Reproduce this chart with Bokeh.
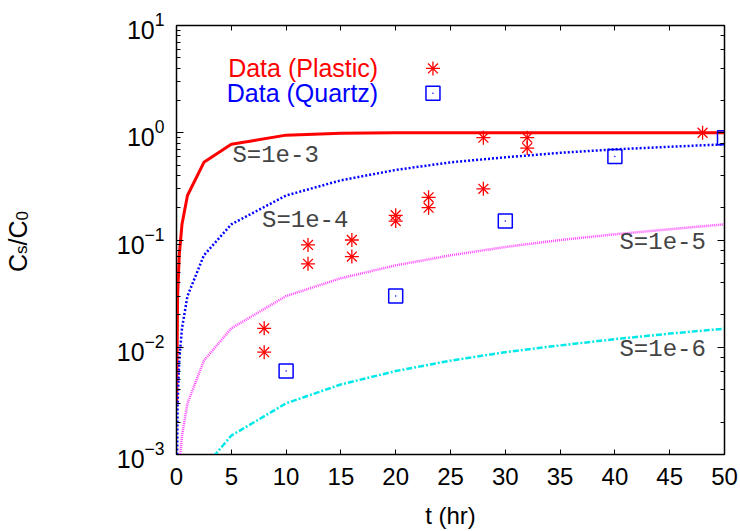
import math

from bokeh.embed import file_html
from bokeh.layouts import row
from bokeh.models import Label, LinearAxis, LogAxis, Range1d
from bokeh.plotting import figure
from bokeh.resources import INLINE

# ---- model curves: C_s/C_0 versus time for four values of S ----
t_model = [0.01, 0.1, 0.25, 0.5, 1, 2.5, 5, 10, 15, 20, 25, 30, 35, 40, 45, 50]
s_1e3 = [0.003, 0.03, 0.072, 0.14, 0.26, 0.53, 0.78, 0.95, 0.99, 1.0, 1.0, 1.0, 1.0, 1.0, 1.0, 1.0]
s_1e4 = [0.0003, 0.003, 0.0075, 0.015, 0.03, 0.072, 0.14, 0.26, 0.36, 0.45, 0.53, 0.59, 0.65, 0.70, 0.74, 0.78]
s_1e5 = [0.00003, 0.0003, 0.00075, 0.0015, 0.003, 0.0075, 0.015, 0.03, 0.044, 0.058, 0.072, 0.086, 0.10, 0.113, 0.126, 0.14]
s_1e6 = [0.000003, 0.00003, 0.000075, 0.00015, 0.0003, 0.00075, 0.0015, 0.003, 0.0045, 0.006, 0.0075, 0.009, 0.0104, 0.0119, 0.0134, 0.0149]

# ---- measurements ----
plastic_t = [8, 8, 12, 12, 16, 16, 20, 20, 23, 23, 28, 28, 32, 32, 48]
plastic_c = [0.015, 0.009, 0.09, 0.06, 0.10, 0.07, 0.17, 0.15, 0.25, 0.20, 0.90, 0.30, 0.90, 0.72, 1.0]
quartz_t = [10, 20, 30, 40, 50]
quartz_c = [0.006, 0.03, 0.15, 0.60, 0.90]

curve_labels = ["S=1e-3", "S=1e-4", "S=1e-5", "S=1e-6"]
x_ticks = list(range(0, 55, 5))

SANS = "Liberation Sans"
MONO = "Liberation Mono"
TITLE_W = 60
HEIGHT = 531
BORDER_TOP = 25
BORDER_BOTTOM = 76

p = figure(
    width=740 - TITLE_W, height=HEIGHT,
    x_range=Range1d(0, 50), y_range=Range1d(1e-3, 1e1),
    y_axis_type="log",
    output_backend="svg", toolbar_location=None,
    min_border_left=176 - TITLE_W, min_border_right=16,
    min_border_top=BORDER_TOP, min_border_bottom=BORDER_BOTTOM,
)
p.grid.visible = False
p.outline_line_color = "black"
p.outline_line_width = 1.5
p.background_fill_color = "white"
p.border_fill_color = "white"

# bottom axis
xa = p.xaxis[0]
xa.ticker = x_ticks
xa.axis_label = "t (hr)"
xa.axis_label_text_font = SANS
xa.axis_label_text_font_size = "24px"
xa.axis_label_text_font_style = "normal"
xa.axis_label_text_color = "black"
xa.axis_label_standoff = 14
xa.major_label_text_font = SANS
xa.major_label_text_font_size = "24px"
xa.major_label_text_color = "black"
xa.major_label_standoff = 13
xa.major_tick_in = 5
xa.major_tick_out = 0
xa.minor_tick_line_color = None
xa.axis_line_color = "black"

# left axis
ya = p.yaxis[0]
ya.major_label_text_font = SANS
ya.major_label_text_font_size = "25px"
ya.major_label_text_color = "black"
ya.major_label_standoff = 12
ya.major_tick_in = 7
ya.major_tick_out = 0
ya.minor_tick_in = 4
ya.minor_tick_out = 0
ya.axis_line_color = "black"

# mirrored ticks on top and right (labels hidden)
top = LinearAxis(ticker=x_ticks, major_tick_in=5, major_tick_out=0,
                 minor_tick_line_color=None, major_label_text_font_size="1px",
                 major_label_text_alpha=0, major_label_standoff=0,
                 axis_line_color="black")
p.add_layout(top, "above")
right = LogAxis(major_tick_in=7, major_tick_out=0, minor_tick_in=4, minor_tick_out=0,
                major_label_text_font_size="1px", major_label_text_alpha=0,
                major_label_standoff=0, axis_line_color="black")
p.add_layout(right, "right")

# model curves
p.line(t_model, s_1e3, line_color="#ff0000", line_width=3)
p.line(t_model, s_1e4, line_color="#0000ff", line_width=2.5, line_dash="2 2")
p.line(t_model, s_1e5, line_color="#ff44ff", line_width=2.5, line_dash="1 1")
p.line(t_model, s_1e6, line_color="#00e8e8", line_width=2.5, line_dash="6 2 2 2")

# plastic data: eight-armed star
p.scatter(plastic_t, plastic_c, marker="cross", size=14, line_color="#ff0000", line_width=1.3)
p.scatter(plastic_t, plastic_c, marker="x", size=14, line_color="#ff0000", line_width=1.3)
# quartz data: open square with centre dot
p.scatter(quartz_t, quartz_c, marker="square", size=14, fill_color=None,
          line_color="#0000ff", line_width=1.5)
p.scatter(quartz_t, quartz_c, marker="circle", size=1.5, fill_color="#0000ff",
          line_color=None)

# curve annotations
label_pos = [(5.1, 0.62, "left"), (7.8, 0.153, "left"), (48.3, 0.094, "right"), (48.3, 0.0095, "right")]
for txt, (lx, ly, al) in zip(curve_labels, label_pos):
    p.add_layout(Label(x=lx, y=ly, text=txt, text_align=al, text_baseline="middle",
                       text_font=MONO, text_font_size="24px", text_color="#444444"))

# key
KEY_TEXT_X = 18.4
KEY_MARK_X = 23.4
KEY_Y = [3.98, 2.33]
p.add_layout(Label(x=KEY_TEXT_X, y=KEY_Y[0], text="Data (Plastic)", text_align="right",
                   text_baseline="middle", text_font=SANS, text_font_size="25px",
                   text_color="#ff0000"))
p.add_layout(Label(x=KEY_TEXT_X, y=KEY_Y[1], text="Data (Quartz)", text_align="right",
                   text_baseline="middle", text_font=SANS, text_font_size="25px",
                   text_color="#0000ff"))
p.scatter([KEY_MARK_X], [KEY_Y[0]], marker="cross", size=14, line_color="#ff0000", line_width=1.3)
p.scatter([KEY_MARK_X], [KEY_Y[0]], marker="x", size=14, line_color="#ff0000", line_width=1.3)
p.scatter([KEY_MARK_X], [KEY_Y[1]], marker="square", size=14, fill_color=None,
          line_color="#0000ff", line_width=1.5)
p.scatter([KEY_MARK_X], [KEY_Y[1]], marker="circle", size=1.5, fill_color="#0000ff",
          line_color=None)

# narrow side panel carrying the rotated y title C_s/C_0;
# its frame lines up with the main frame, and its y range counts pixels up from the bottom edge
yt = figure(width=TITLE_W, height=HEIGHT, x_range=Range1d(0, TITLE_W),
            y_range=Range1d(BORDER_BOTTOM, HEIGHT - BORDER_TOP),
            output_backend="svg", toolbar_location=None,
            x_axis_location=None, y_axis_location=None, title=None,
            min_border_left=0, min_border_right=0,
            min_border_top=BORDER_TOP, min_border_bottom=BORDER_BOTTOM)
yt.grid.visible = False
yt.outline_line_color = None
yt.background_fill_color = "white"
yt.border_fill_color = "white"
# pieces: (text, font size, position along the text line, baseline position)
ytitle = [("C", "25px", 259, 17), ("s", "17px", 277, 21), ("/", "25px", 285.5, 17),
          ("C", "25px", 292.5, 17), ("0", "17px", 310.5, 21)]
for txt, fs, ypos, xpos in ytitle:
    yt.add_layout(Label(x=xpos, y=ypos, text=txt, angle=math.pi / 2,
                        text_align="left", text_baseline="alphabetic",
                        text_font=SANS, text_font_size=fs, text_color="black"))

layout = row(yt, p, spacing=0)
open("out.html", "w").write(file_html(layout, INLINE))
